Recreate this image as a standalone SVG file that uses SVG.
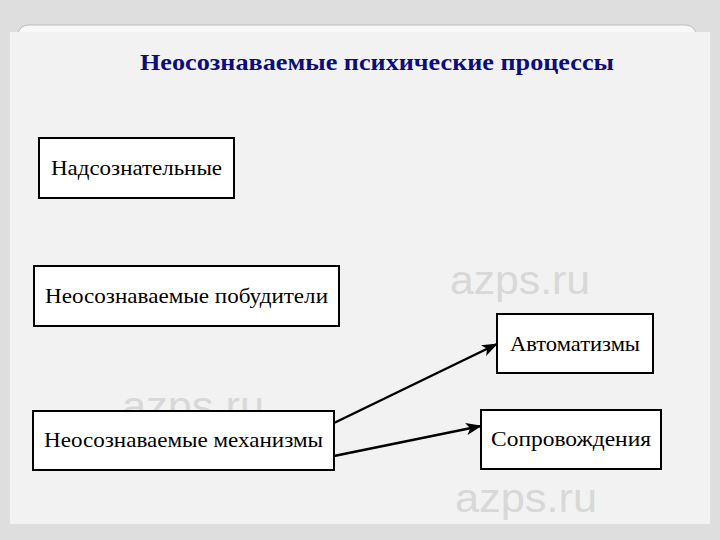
<svg xmlns="http://www.w3.org/2000/svg" width="720" height="540" viewBox="0 0 720 540">
<style>
.box{fill:#fff;stroke:#000;stroke-width:2}
.lbl{font-family:"Liberation Serif","DejaVu Serif",serif;font-size:22px;fill:#000}
.wm{font-family:"Liberation Sans","DejaVu Sans",sans-serif;font-size:40px;fill:#d8d8d8}
.conn{stroke:#000;stroke-width:2.5;fill:none;marker-end:url(#ah)}
</style>
<defs>
<marker id="ah" viewBox="0 0 16 12" refX="15" refY="6" markerWidth="16" markerHeight="12" orient="auto" markerUnits="userSpaceOnUse">
<path d="M0,0 L16,6 L0,12 L4,6 z" fill="#000"/>
</marker>
</defs>
<rect x="0" y="0" width="720" height="540" fill="#dedede"/>
<rect x="18" y="25" width="678" height="30" rx="10" fill="#f8f8f8" stroke="#bdbdbd" stroke-width="1"/>
<rect x="10" y="32" width="700" height="492" fill="#f2f2f2"/>
<g id="watermarks">
<text class="wm" x="450" y="294" textLength="140" lengthAdjust="spacingAndGlyphs">azps.ru</text>
<text class="wm" x="122" y="420" textLength="142" lengthAdjust="spacingAndGlyphs">azps.ru</text>
<text class="wm" x="455" y="512" textLength="142" lengthAdjust="spacingAndGlyphs">azps.ru</text>
</g>
<text x="377" y="70" text-anchor="middle" font-family="Liberation Serif,DejaVu Serif,serif" font-weight="bold" font-size="23" fill="#0c0c7a" textLength="474" lengthAdjust="spacingAndGlyphs">Неосознаваемые психические процессы</text>
<g id="connectors">
<line class="conn" x1="334" y1="423" x2="497" y2="344"/>
<line class="conn" x1="334" y1="456" x2="481" y2="426"/>
</g>
<g id="n1"><rect class="box" x="39" y="138" width="195" height="60"/><text class="lbl" x="51" y="175" textLength="171" lengthAdjust="spacingAndGlyphs">Надсознательные</text></g>
<g id="n2"><rect class="box" x="34" y="266" width="305" height="60"/><text class="lbl" x="45" y="303" textLength="283" lengthAdjust="spacingAndGlyphs">Неосознаваемые побудители</text></g>
<g id="n3"><rect class="box" x="33" y="411" width="301" height="59"/><text class="lbl" x="44" y="447" textLength="279" lengthAdjust="spacingAndGlyphs">Неосознаваемые механизмы</text></g>
<g id="n4"><rect class="box" x="497" y="314" width="156" height="59"/><text class="lbl" x="510" y="351" textLength="130" lengthAdjust="spacingAndGlyphs">Автоматизмы</text></g>
<g id="n5"><rect class="box" x="481" y="410" width="180" height="59"/><text class="lbl" x="491" y="446" textLength="160" lengthAdjust="spacingAndGlyphs">Сопровождения</text></g>
</svg>
